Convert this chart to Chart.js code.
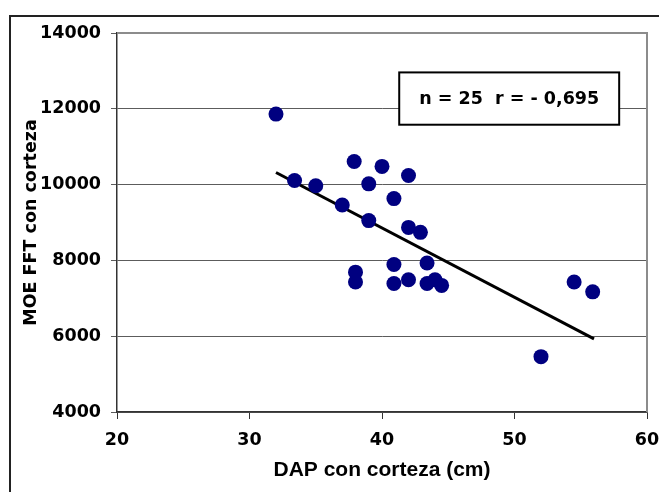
<!DOCTYPE html>
<html>
<head>
<meta charset="utf-8">
<script src="https://cdn.jsdelivr.net/npm/chart.js@4.4.1/dist/chart.umd.min.js"></script>
<style>
  html, body { margin: 0; padding: 0; background: #fff; }
  #wrap { position: relative; width: 659px; height: 492px; overflow: hidden; }
  #marco { position: absolute; left: 9px; top: 15px; width: 700px; height: 600px;
           border-left: 2px solid #222; border-top: 2px solid #222; }
  #grafico { position: absolute; left: 0; top: 0; }
</style>
</head>
<body>
<div id="wrap">
  <div id="marco"></div>
  <canvas id="grafico" width="659" height="492"></canvas>
</div>
<script>
// DAP con corteza (cm) vs MOE FFT con corteza
const dapCm  = [32, 33.4, 35, 37, 37.9, 40, 39, 40.9, 42, 39, 42, 42.9, 38, 38, 40.9, 40.9, 42, 43.4, 43.4, 44, 44.5, 54.5, 55.9, 52];
const moeFft = [11860, 10110, 9970, 9460, 10610, 10480, 10020, 9630, 10240, 9050, 8870, 8740, 7690, 7430, 7890, 7390, 7490, 7930, 7390, 7490, 7340, 7430, 7170, 5460];

// recta de tendencia (extremos)
const tendX = [32, 56];
const tendY = [10320, 5930];

const xTicks = [20, 30, 40, 50, 60];
const yTicks = [4000, 6000, 8000, 10000, 12000, 14000];
const textoStats = "n = 25  r = - 0,695";

const puntos = dapCm.map((v, i) => ({x: v, y: moeFft[i]}));
const recta = tendX.map((v, i) => ({x: v, y: tendY[i]}));

const fuenteTick = {family: "'DejaVu Sans', sans-serif", size: 17.5, weight: 'bold'};

// marco gris arriba y a la derecha del area de trazado
const marcoPlot = {
  id: 'marcoPlot',
  beforeDatasetsDraw(chart) {
    const {ctx, chartArea: a} = chart;
    ctx.save();
    ctx.strokeStyle = '#8c8c8c';
    ctx.lineWidth = 2;
    ctx.beginPath();
    ctx.moveTo(a.left, a.top);
    ctx.lineTo(a.right, a.top);
    ctx.lineTo(a.right, a.bottom);
    ctx.stroke();
    ctx.restore();
  }
};

// cuadro con n y r
const cuadroStats = {
  id: 'cuadroStats',
  afterDraw(chart) {
    const {ctx, scales: {x, y}} = chart;
    const l = x.getPixelForValue(41.3), r = x.getPixelForValue(57.9);
    const t = y.getPixelForValue(12960), b = y.getPixelForValue(11580);
    ctx.save();
    ctx.fillStyle = '#fff';
    ctx.fillRect(l, t, r - l, b - t);
    ctx.strokeStyle = '#000';
    ctx.lineWidth = 2;
    ctx.strokeRect(l, t, r - l, b - t);
    ctx.fillStyle = '#000';
    ctx.font = "bold 17.5px 'DejaVu Sans', sans-serif";
    ctx.textAlign = 'center';
    ctx.textBaseline = 'middle';
    ctx.fillText(textoStats, (l + r) / 2, (t + b) / 2 + 1);
    ctx.restore();
  }
};

new Chart(document.getElementById('grafico'), {
  type: 'scatter',
  data: {
    datasets: [
      {
        label: 'MOE',
        data: puntos,
        backgroundColor: '#000080',
        borderWidth: 0,
        pointRadius: 7.5,
        pointHoverRadius: 7.5
      },
      {
        type: 'line',
        label: 'tendencia',
        data: recta,
        borderColor: '#000',
        borderWidth: 3,
        pointRadius: 0,
        fill: false
      }
    ]
  },
  options: {
    responsive: false,
    animation: false,
    devicePixelRatio: 1,
    layout: {padding: {top: 33, right: 12, left: 0, bottom: 0}},
    plugins: {legend: {display: false}, tooltip: {enabled: false}},
    scales: {
      x: {
        type: 'linear',
        min: 20, max: 60,
        afterBuildTicks: (s) => { s.ticks = xTicks.map(v => ({value: v})); },
        afterFit: (s) => { s.height = 80; s.paddingLeft = 0; s.paddingRight = 0; },
        ticks: {color: '#000', font: fuenteTick, padding: 11, callback: (v) => String(v)},
        grid: {drawOnChartArea: false, tickLength: 7, color: '#333'},
        border: {color: '#333', width: 1.5},
        title: {
          display: true,
          text: 'DAP con corteza (cm)',
          color: '#000',
          font: {family: "'Liberation Sans', Arial, sans-serif", size: 21, weight: 'bold'},
          padding: {top: 0, bottom: 9}
        }
      },
      y: {
        type: 'linear',
        min: 4000, max: 14000,
        afterBuildTicks: (s) => { s.ticks = yTicks.map(v => ({value: v})); },
        afterFit: (s) => { s.width = 117; s.paddingTop = 0; s.paddingBottom = 0; },
        ticks: {color: '#000', font: fuenteTick, padding: 10, callback: (v) => String(v)},
        grid: {color: '#5c5c5c', lineWidth: 1, tickLength: 6},
        border: {color: '#333', width: 1.5},
        title: {
          display: true,
          text: 'MOE FFT con corteza',
          color: '#000',
          font: {family: "'DejaVu Sans', sans-serif", size: 17.5, weight: 'bold'},
          padding: {top: 21, bottom: 0}
        }
      }
    }
  },
  plugins: [marcoPlot, cuadroStats]
});
</script>
</body>
</html>
